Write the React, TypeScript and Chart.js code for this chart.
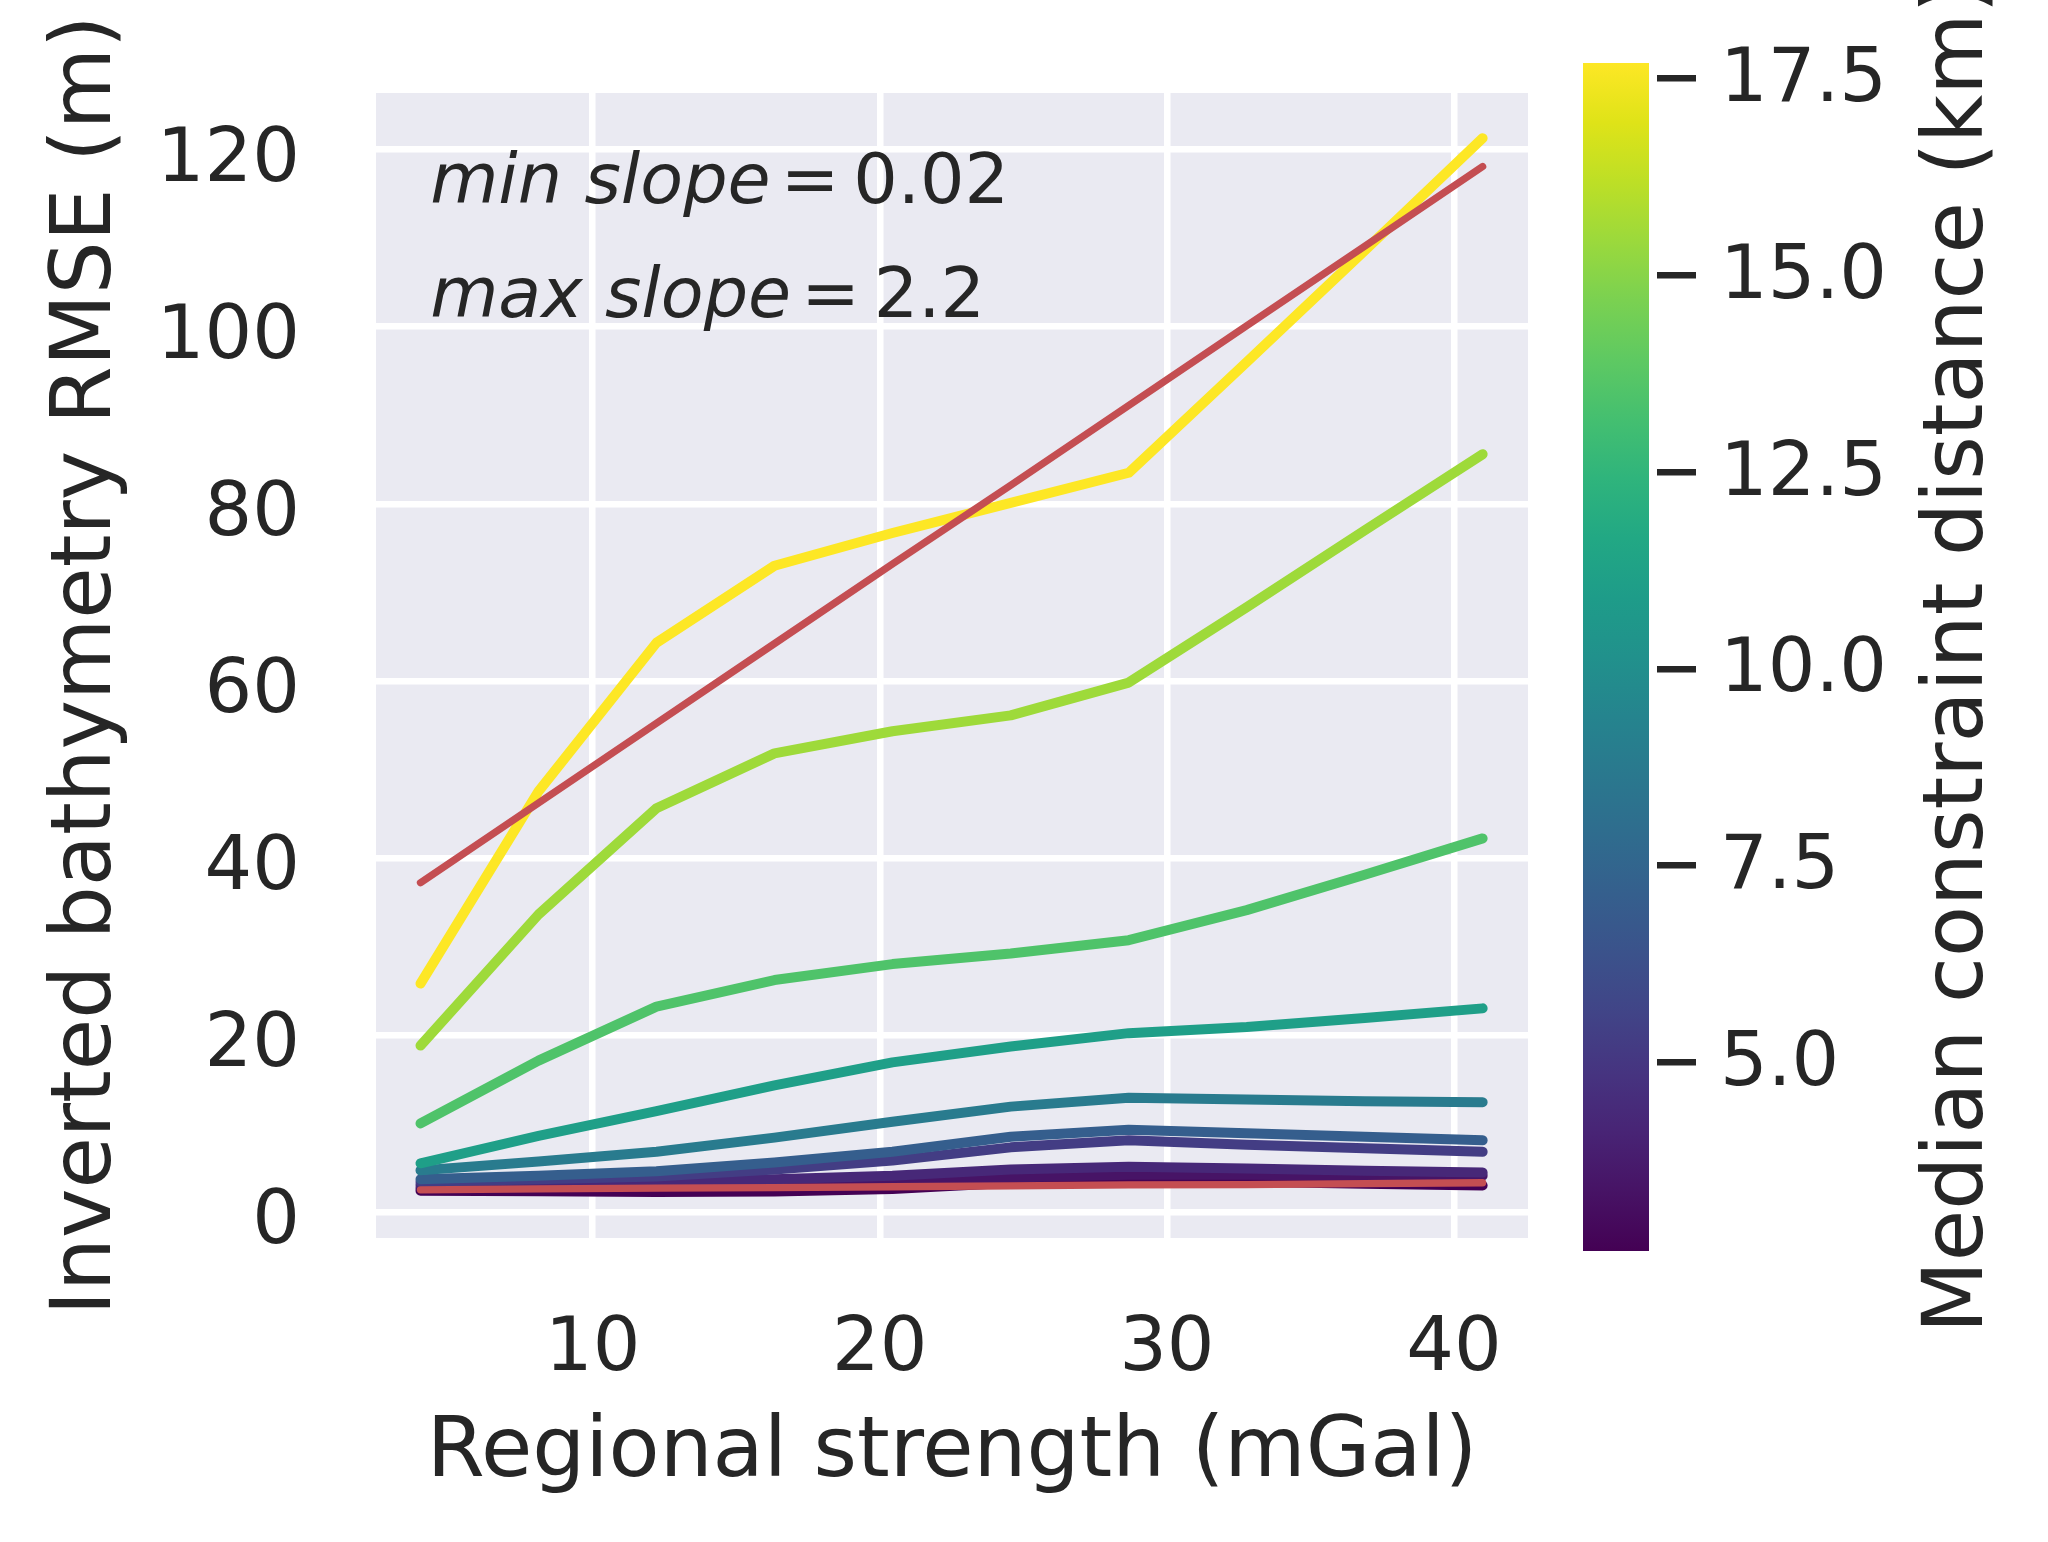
import { useEffect, useRef } from 'react'
import { Chart, registerables } from 'chart.js'

Chart.register(...registerables)

// regional strength of each run (mGal)
const strengths = [4, 8.11, 12.22, 16.33, 20.44, 24.56, 28.67, 32.78, 36.89, 41]

// median constraint distance of each curve (km) -> colour
const distances = [2.6, 3.4, 4.3, 5.3, 7.1, 8.8, 11.1, 13.5, 15.5, 17.7]

// inverted bathymetry RMSE (m), one curve per distance
const rmse2_6 = [2.4, 2.35, 2.25, 2.3, 2.6, 3.3, 3.6, 3.4, 3.2, 3.0]
const rmse3_4 = [2.7, 2.8, 2.9, 3.1, 3.4, 3.9, 4.2, 4.2, 4.1, 4.1]
const rmse4_3 = [3.05, 3.2, 3.4, 3.7, 4.1, 4.8, 5.1, 4.9, 4.65, 4.45]
const rmse5_3 = [3.4, 3.7, 4.0, 4.8, 5.8, 7.3, 8.1, 7.6, 7.2, 6.8]
const rmse7_1 = [3.7, 4.1, 4.6, 5.6, 6.8, 8.5, 9.3, 8.9, 8.5, 8.1]
const rmse8_8 = [4.7, 5.7, 6.8, 8.4, 10.2, 11.9, 12.9, 12.7, 12.5, 12.4]
const rmse11_1 = [5.5, 8.6, 11.4, 14.3, 16.9, 18.7, 20.2, 20.9, 21.9, 23.0]
const rmse13_5 = [10.0, 17.1, 23.2, 26.2, 28.0, 29.2, 30.7, 34.1, 38.1, 42.2]
const rmse15_5 = [18.8, 33.6, 45.6, 51.8, 54.3, 56.1, 59.8, 68.3, 77.0, 85.6]
const rmse17_7 = [25.8, 47.5, 64.3, 73.0, 76.7, 80.1, 83.5, 96.0, 108.6, 121.3]
const rmseSeries = [rmse2_6, rmse3_4, rmse4_3, rmse5_3, rmse7_1, rmse8_8, rmse11_1, rmse13_5, rmse15_5, rmse17_7]

// straight fits with the smallest and the largest slope
const minSlopeFit = [2.5, 2.6, 2.7, 2.75, 2.85, 2.95, 3.05, 3.1, 3.2, 3.3]
const maxSlopeFit = [37.2, 46.2, 55.2, 64.2, 73.2, 82.1, 91.1, 100.1, 109.1, 118.1]

const xTicks = [10, 20, 30, 40]
const yTicks = [0, 20, 40, 60, 80, 100, 120]
const cbarTicks = [5, 7.5, 10, 12.5, 15, 17.5]

const X_MIN = 2.45, X_MAX = 42.58
const Y_MIN = -2.94, Y_MAX = 126.4
const C_MIN = 2.6, C_MAX = 17.7

const FONT = '"DejaVu Sans", sans-serif'
const INK = '#262626'
const RED = '#c44e52'
const TICK_SIZE = 75
const LABEL_SIZE = 83.5

const VIRIDIS = [
  '#440154', '#471365', '#482475', '#463480', '#414487', '#3b528b', '#355f8d',
  '#2f6c8e', '#2a788e', '#25848e', '#21918c', '#1e9c89', '#22a884', '#2fb47c',
  '#44bf70', '#5ec962', '#7ad151', '#9bd93c', '#bddf26', '#dfe318', '#fde725',
]

function hexRgb(h: string) {
  return [1, 3, 5].map(i => parseInt(h.slice(i, i + 2), 16))
}

function viridis(t: number) {
  t = Math.min(1, Math.max(0, t))
  const n = VIRIDIS.length - 1
  const i = Math.min(n - 1, Math.floor(t * n))
  const f = t * n - i
  const a = hexRgb(VIRIDIS[i]), b = hexRgb(VIRIDIS[i + 1])
  const c = a.map((v, k) => Math.round(v + (b[k] - v) * f))
  return `rgb(${c[0]},${c[1]},${c[2]})`
}

const fixTicks = (vals: number[]) => (s: any) => { s.ticks = vals.map(v => ({ value: v })) }

function MainChart() {
  const canvasRef = useRef<HTMLCanvasElement>(null)

  useEffect(() => {
    if (!canvasRef.current) return

    // axes background (seaborn darkgrid)
    const bgPlugin = {
      id: 'axesBg',
      beforeDraw(chart: any) {
        const { ctx, chartArea: a } = chart
        ctx.save()
        ctx.fillStyle = '#eaeaf2'
        ctx.fillRect(a.left, a.top, a.right - a.left, a.bottom - a.top)
        ctx.restore()
      },
    }

    // min / max slope notes in the upper left corner (italic words, upright "= value")
    const notesPlugin = {
      id: 'slopeNotes',
      afterDatasetsDraw(chart: any) {
        const { ctx, chartArea: a } = chart
        const w = a.right - a.left, h = a.bottom - a.top
        const rows = [['min slope', '0.02', 0.904], ['max slope', '2.2', 0.804]] as const
        ctx.save()
        ctx.fillStyle = INK
        ctx.textBaseline = 'alphabetic'
        ctx.textAlign = 'left'
        rows.forEach(([it, num, fy]) => {
          let x = a.left + 0.047 * w
          const y = a.bottom - fy * h
          ctx.font = `italic 70px ${FONT}`
          ctx.fillText(it, x, y)
          x += ctx.measureText(it).width + 10
          ctx.font = `70px ${FONT}`
          ctx.fillText('=', x, y)
          x += ctx.measureText('=').width + 14
          ctx.fillText(num, x, y)
        })
        ctx.restore()
      },
    }

    const datasets: any[] = [
      { data: minSlopeFit.map((y, j) => ({ x: strengths[j], y })), borderColor: RED, borderWidth: 7.3, order: 0 },
      { data: maxSlopeFit.map((y, j) => ({ x: strengths[j], y })), borderColor: RED, borderWidth: 7.3, order: 0 },
      ...rmseSeries.map((vals, i) => ({
        data: vals.map((y, j) => ({ x: strengths[j], y })),
        borderColor: viridis((distances[i] - C_MIN) / (C_MAX - C_MIN)),
        borderWidth: 10,
        order: rmseSeries.length - i,
      })),
    ].map(d => ({ ...d, pointRadius: 0, tension: 0, borderCapStyle: 'round', borderJoinStyle: 'round', fill: false }))

    const chart = new Chart(canvasRef.current, {
      type: 'line',
      data: { datasets },
      plugins: [bgPlugin, notesPlugin],
      options: {
        responsive: false,
        animation: false,
        devicePixelRatio: 1,
        layout: { padding: { top: 93, right: 32, left: 0, bottom: 0 } },
        plugins: { legend: { display: false }, tooltip: { enabled: false } },
        scales: {
          x: {
            type: 'linear', min: X_MIN, max: X_MAX,
            afterBuildTicks: fixTicks(xTicks),
            afterFit: (s: any) => { s.height = 304; s.paddingLeft = 0; s.paddingRight = 0 },
            grid: { color: '#ffffff', lineWidth: 6.5, drawTicks: false },
            border: { display: false },
            ticks: { color: INK, font: { family: FONT, size: TICK_SIZE }, padding: 68, maxRotation: 0, autoSkip: false, callback: (v: any) => String(v) },
            title: { display: true, text: 'Regional strength (mGal)', color: INK, font: { family: FONT, size: LABEL_SIZE }, padding: { top: 0, bottom: 38 } },
          },
          y: {
            type: 'linear', min: Y_MIN, max: Y_MAX,
            afterBuildTicks: fixTicks(yTicks),
            afterFit: (s: any) => { s.width = 376; s.paddingTop = 0; s.paddingBottom = 0 },
            grid: { color: '#ffffff', lineWidth: 6.5, drawTicks: false },
            border: { display: false },
            ticks: { color: INK, font: { family: FONT, size: TICK_SIZE }, padding: 76, labelOffset: 12, autoSkip: false, callback: (v: any) => String(v) },
            title: { display: true, text: 'Inverted bathymetry RMSE (m)', color: INK, font: { family: FONT, size: LABEL_SIZE }, padding: { top: 38, bottom: 0 } },
          },
        },
      },
    } as any)

    return () => chart.destroy()
  }, [])

  return <canvas ref={canvasRef} width={1560} height={1542} style={{ position: 'absolute', left: 0, top: 0, width: 1560, height: 1542 }} />
}

function ColorBar() {
  const canvasRef = useRef<HTMLCanvasElement>(null)

  useEffect(() => {
    if (!canvasRef.current) return

    const barPlugin = {
      id: 'cbarFill',
      beforeDraw(chart: any) {
        const { ctx, chartArea: a } = chart
        const g = ctx.createLinearGradient(0, a.bottom, 0, a.top)
        VIRIDIS.forEach((c, i) => g.addColorStop(i / (VIRIDIS.length - 1), c))
        ctx.save()
        ctx.fillStyle = g
        ctx.fillRect(a.left, a.top, a.right - a.left - 8, a.bottom - a.top)
        ctx.restore()
      },
      afterDraw(chart: any) {
        const { ctx, chartArea: a } = chart
        ctx.save()
        ctx.translate(chart.width - 66, (a.top + a.bottom) / 2)
        ctx.rotate(-Math.PI / 2)
        ctx.font = `${LABEL_SIZE}px ${FONT}`
        ctx.fillStyle = INK
        ctx.textAlign = 'center'
        ctx.textBaseline = 'alphabetic'
        ctx.fillText('Median constraint distance (km)', 0, 0)
        ctx.restore()
      },
    }

    const chart = new Chart(canvasRef.current, {
      type: 'line',
      data: { datasets: [] },
      plugins: [barPlugin],
      options: {
        responsive: false,
        animation: false,
        devicePixelRatio: 1,
        layout: { padding: { top: 63, right: 0, left: 23, bottom: 291 } },
        plugins: { legend: { display: false }, tooltip: { enabled: false } },
        scales: {
          x: { type: 'linear', display: false, min: 0, max: 1 },
          y: {
            type: 'linear', position: 'right', min: C_MIN, max: C_MAX,
            afterBuildTicks: fixTicks(cbarTicks),
            afterFit: (s: any) => { s.width = 391; s.paddingTop = 0; s.paddingBottom = 0 },
            grid: { drawOnChartArea: false, drawTicks: true, tickLength: 39, color: INK, lineWidth: 6.5 },
            border: { display: false },
            ticks: { color: INK, font: { family: FONT, size: TICK_SIZE }, padding: 24, labelOffset: 3, autoSkip: false, callback: (v: any) => Number(v).toFixed(1) },
          },
        },
      },
    } as any)

    return () => chart.destroy()
  }, [])

  return <canvas ref={canvasRef} width={488} height={1542} style={{ position: 'absolute', left: 1560, top: 0, width: 488, height: 1542 }} />
}

export default function App() {
  return (
    <div style={{ position: 'absolute', left: 0, top: 0, width: 2048, height: 1542, background: '#ffffff', overflow: 'hidden' }}>
      <MainChart />
      <ColorBar />
    </div>
  )
}
